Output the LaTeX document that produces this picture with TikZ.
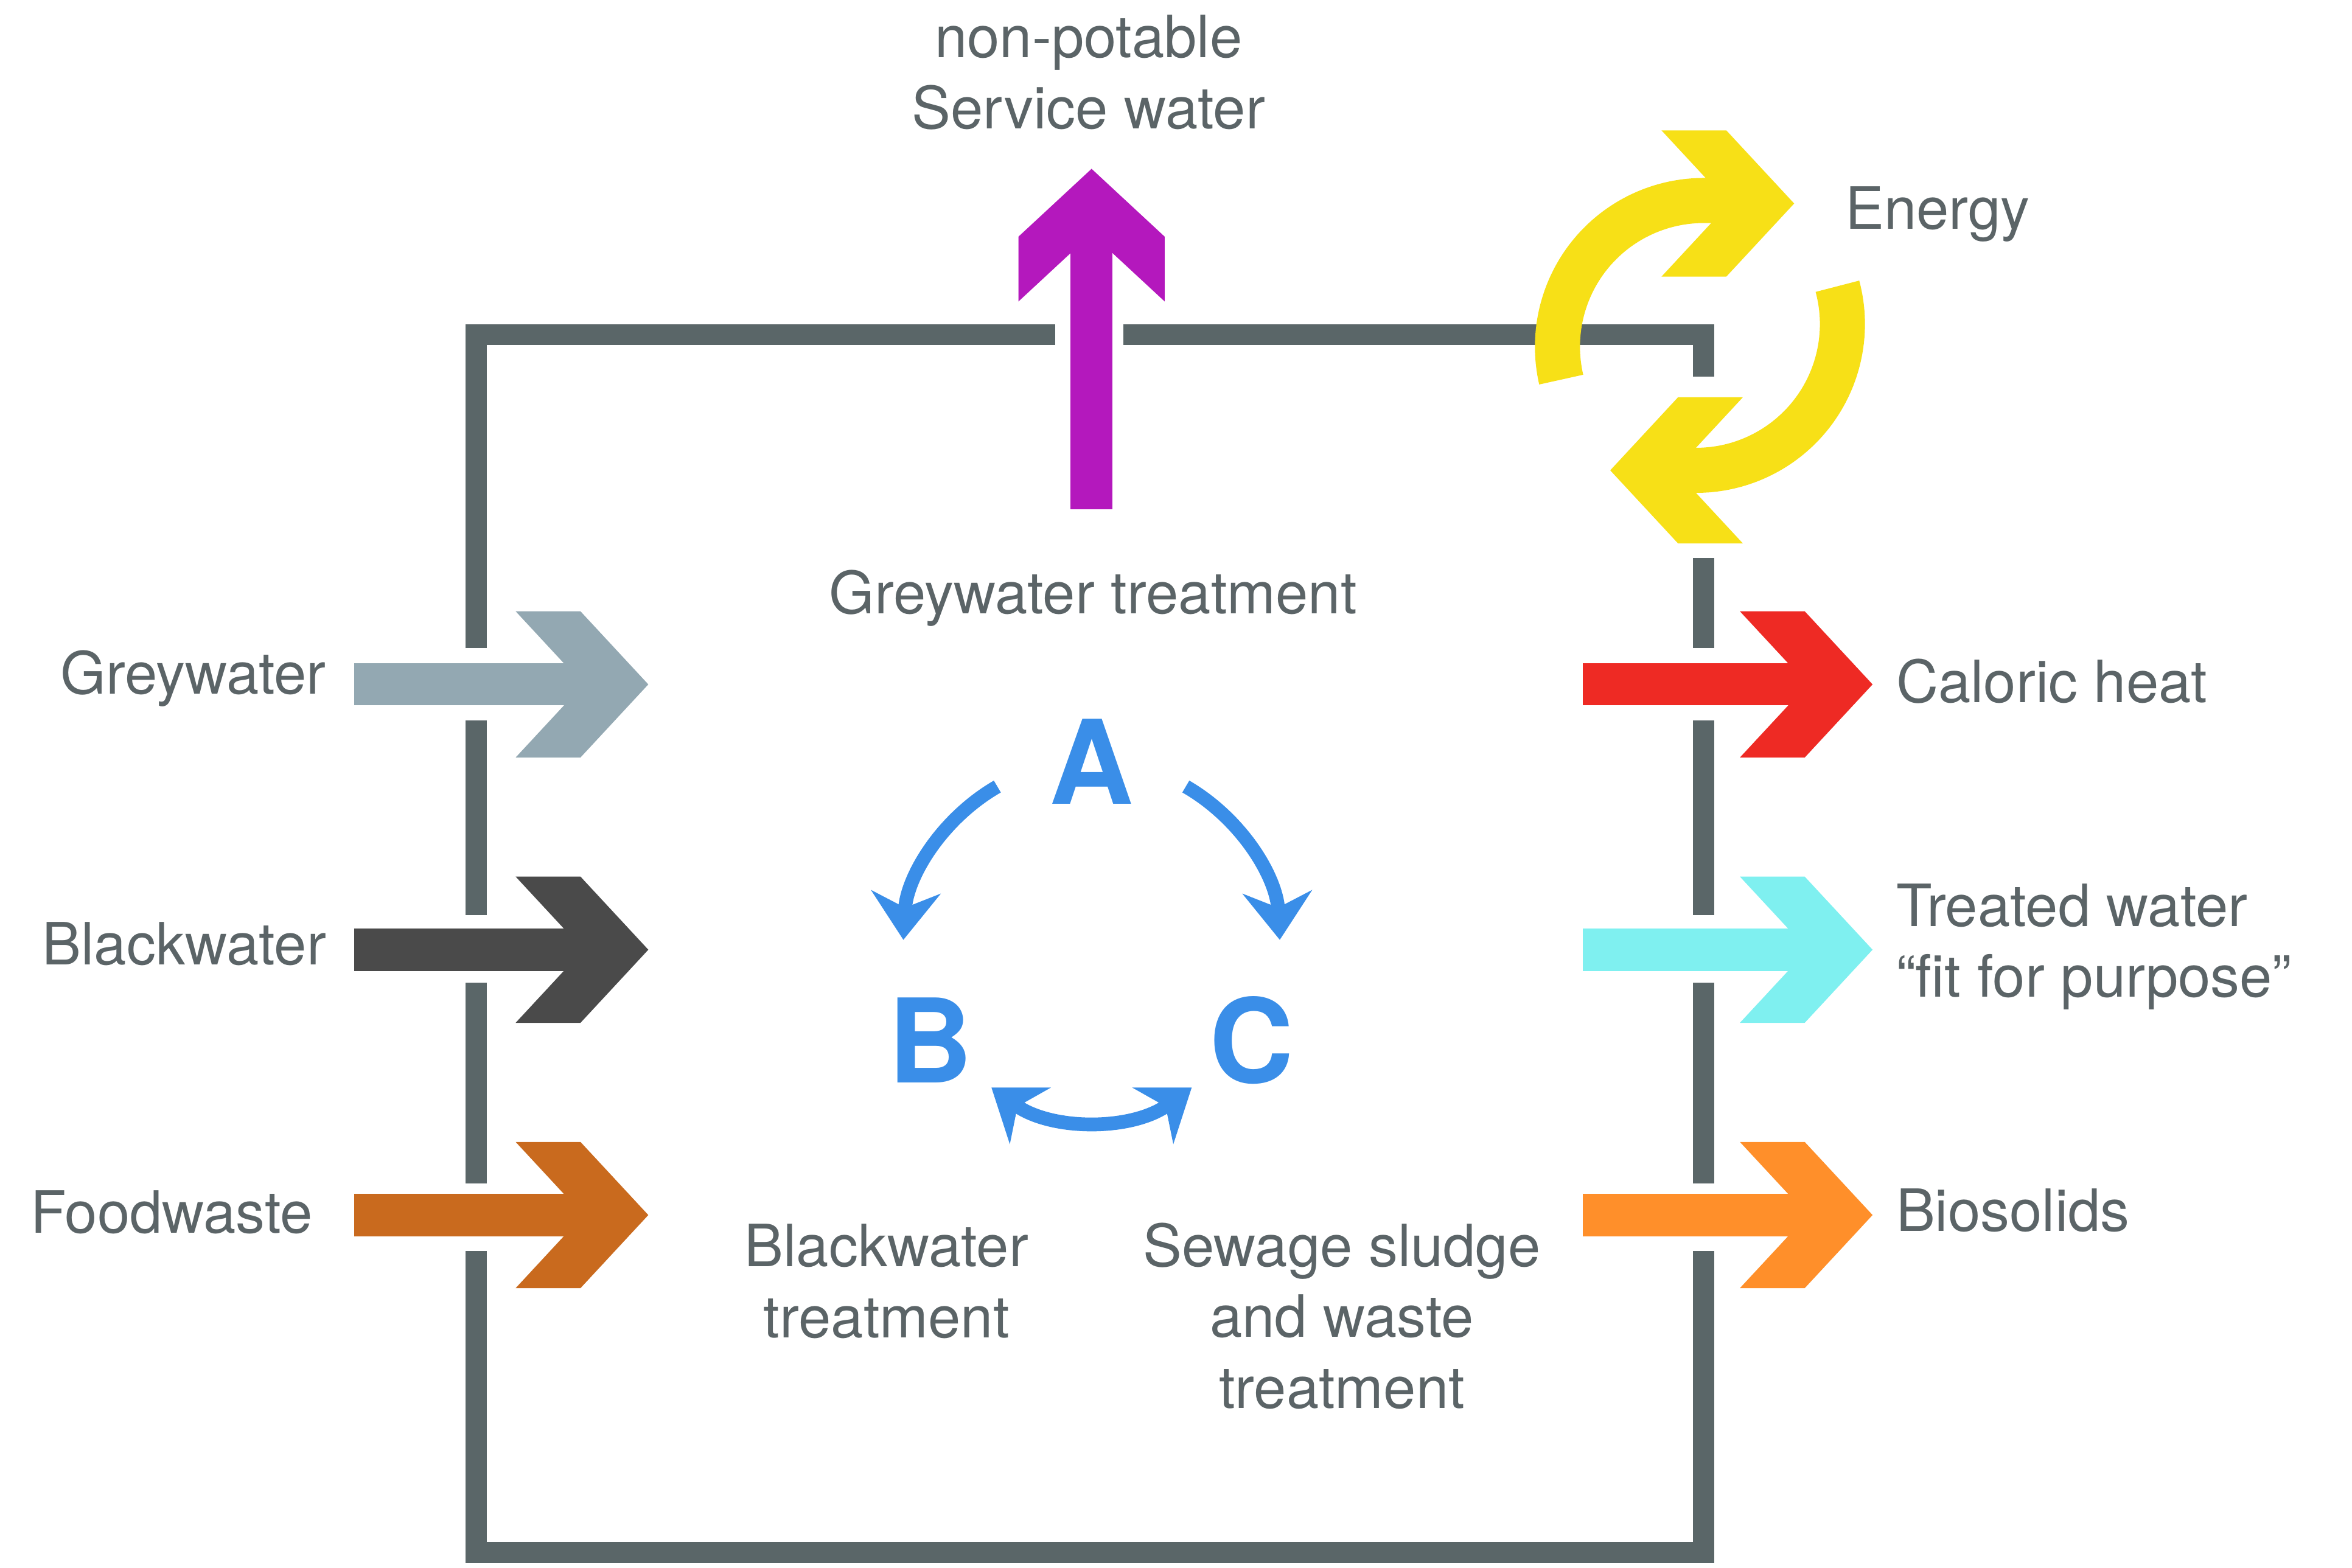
\documentclass[tikz,border=0pt]{standalone}
\usepackage{fontspec}
\setmainfont{TeX Gyre Heros}
\usetikzlibrary{arrows.meta, positioning}
\definecolor{boxgrey}{HTML}{5A6668}
\definecolor{txtgrey}{HTML}{5B6467}
\definecolor{greyw}{HTML}{93A8B2}
\definecolor{blackw}{HTML}{4A4A4A}
\definecolor{foodw}{HTML}{C96A1E}
\definecolor{servw}{HTML}{B418BD}
\definecolor{heatc}{HTML}{EE2A24}
\definecolor{treatw}{HTML}{7FF0F0}
\definecolor{biosol}{HTML}{FF8F2A}
\definecolor{energy}{HTML}{F7E017}
\definecolor{cycleb}{HTML}{3A8EE8}

\tikzset{
  chev/.pic={\fill (-88,48.5)--(-45,48.5)--(0,0)--(-45,-48.5)--(-88,-48.5)--(-43,0)--cycle;},
  label/.style={text=txtgrey, font=\fontsize{11}{13.4}\selectfont, align=center, inner sep=0pt},
  letter/.style={text=cycleb, font=\fontsize{22}{24}\selectfont\bfseries, inner sep=0pt},
  cyc/.style={draw=cycleb, line width=2.6pt},
}
\newcommand\fatarrow[4]{% colour, start x, tip x, y
  \fill[#1] (#2,#4-14) rectangle (#3-40,#4+14);
  \pic[#1] at (#3,#4) {chev};}

\begin{document}
\begin{tikzpicture}[x=0.01cm,y=-0.01cm]
  \useasboundingbox (0,0) rectangle (1560,1040);

  % system boundary
  \begin{scope}[draw=boxgrey, line width=4pt]
    \draw (316,430) -- (316,222) -- (700,222);
    \draw (745,222) -- (1130,222) -- (1130,250);
    \draw (316,478) -- (316,607);
    \draw (316,652) -- (316,785);
    \draw (316,830) -- (316,1030) -- (1130,1030) -- (1130,830);
    \draw (1130,370) -- (1130,430);
    \draw (1130,478) -- (1130,607);
    \draw (1130,652) -- (1130,785);
  \end{scope}

  % inputs and outputs
  \fatarrow{greyw}{235}{430}{454}
  \fatarrow{blackw}{235}{430}{630}
  \fatarrow{foodw}{235}{430}{806}
  \fatarrow{heatc}{1050}{1242}{454}
  \fatarrow{treatw}{1050}{1242}{630}
  \fatarrow{biosol}{1050}{1242}{806}
  \fill[servw] (710,338) rectangle (738,150);
  \pic[servw, rotate=90] at (724,112) {chev};

  % energy loop
  \draw[energy, line width=8.5pt] ([shift={(167:97)}]1130,230) arc[start angle=167, end angle=270, radius=97] -- (1150,133);
  \pic[energy] at (1190,135) {chev};
  \draw[energy, line width=8.5pt] ([shift={(-15:97)}]1125,215) arc[start angle=-15, end angle=90, radius=97] -- (1105,312);
  \pic[energy, rotate=180] at (1068,312) {chev};

  % treatment cycle
  \node[letter] (A) at (724,505) {A};
  \node[letter] (B) at (617,690) {B};
  \node[letter] (C) at (830,690) {C};
  \draw[cyc, -{Stealth[length=9pt,width=13pt]}] ([shift={(240:125)}]724,630) arc[start angle=240, end angle=183, radius=125];
  \draw[cyc, -{Stealth[length=9pt,width=13pt]}] ([shift={(300:125)}]724,630) arc[start angle=300, end angle=357, radius=125];
  \draw[cyc, {Stealth[length=9pt,width=13pt]}-{Stealth[length=9pt,width=13pt]}] ([shift={(126:113)}]724,630) arc[start angle=126, end angle=54, radius=113];

  % labels
  \node[label] (service) at (722,48) {non-potable\\Service water};
  \node[label] (energyl) at (1285,142) {Energy};
  \node[label] (greytr) at (725,397) {Greywater treatment};
  \node[label, anchor=east] (greyin) at (217,450) {Greywater};
  \node[label, anchor=east] (blackin) at (217,626) {Blackwater};
  \node[label, anchor=east] (foodin) at (208,804) {Foodwaste};
  \node[label, anchor=west] (heat) at (1257,452) {Caloric heat};
  \node[label, anchor=west, align=left] (treated) at (1257,628) {Treated water\\“fit for purpose”};
  \node[label, anchor=west] (bios) at (1257,803) {Biosolids};
  \node[label] (blacktr) at (588,850) {Blackwater\\treatment};
  \node[label] (sludgetr) at (890,873) {Sewage sludge\\and waste\\treatment};
\end{tikzpicture}
\end{document}
